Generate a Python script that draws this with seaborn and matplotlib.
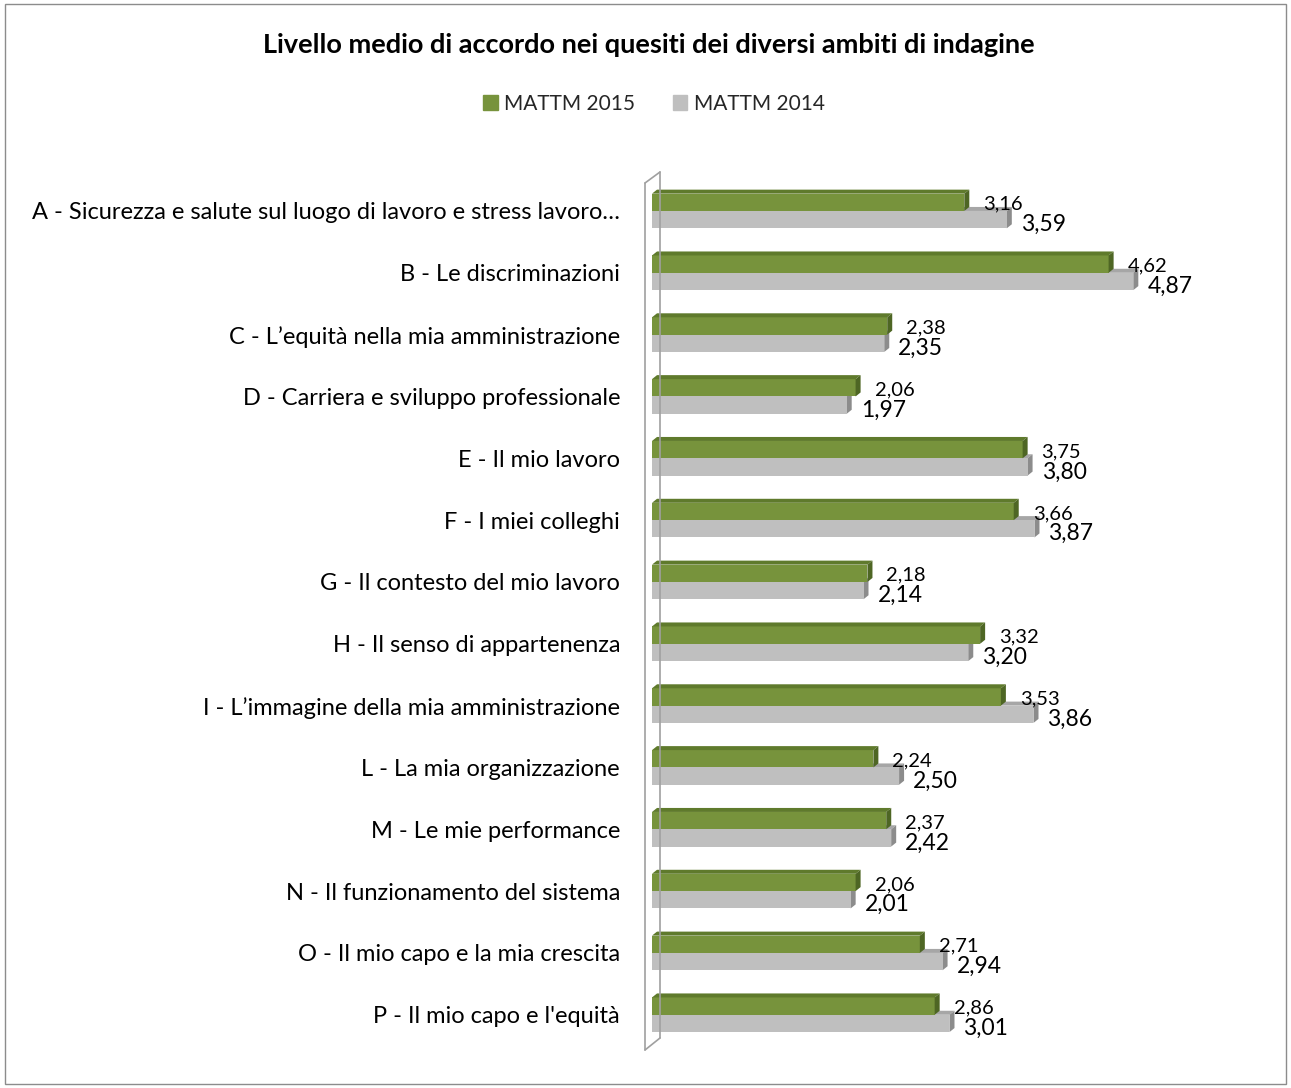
import pandas as pd
import matplotlib.pyplot as plt
import seaborn as sns
from matplotlib.patches import Polygon, Rectangle
from matplotlib.lines import Line2D

# Data
categories = [
    "A - Sicurezza e salute sul luogo di lavoro e stress lavoro…",
    "B - Le discriminazioni",
    "C - L’equità nella mia amministrazione",
    "D - Carriera e sviluppo professionale",
    "E - Il mio lavoro",
    "F - I miei colleghi",
    "G - Il contesto del mio lavoro",
    "H - Il senso di appartenenza",
    "I - L’immagine della mia amministrazione",
    "L - La mia organizzazione",
    "M - Le mie performance",
    "N - Il funzionamento del sistema",
    "O - Il mio capo e la mia crescita",
    "P - Il mio capo e l'equità",
]
mattm_2015 = [3.16, 4.62, 2.38, 2.06, 3.75, 3.66, 2.18, 3.32, 3.53, 2.24, 2.37, 2.06, 2.71, 2.86]
mattm_2014 = [3.59, 4.87, 2.35, 1.97, 3.80, 3.87, 2.14, 3.20, 3.86, 2.50, 2.42, 2.01, 2.94, 3.01]
series = ["MATTM 2015", "MATTM 2014"]

colors = {"MATTM 2015": "#77933C", "MATTM 2014": "#BFBFBF"}
top_col = {"MATTM 2015": "#5F7A2C", "MATTM 2014": "#A6A6A6"}
side_col = {"MATTM 2015": "#4E6624", "MATTM 2014": "#8C8C8C"}

df = pd.DataFrame({
    "categoria": categories * 2,
    "valore": mattm_2015 + mattm_2014,
    "serie": [series[0]] * len(categories) + [series[1]] * len(categories),
})

W, H = 1291, 1088
sns.set_theme(style="white")
plt.rcParams["font.family"] = ["Lato", "DejaVu Sans"]

fig = plt.figure(figsize=(W / 100, H / 100), dpi=100)
ax = fig.add_axes([652 / W, 1 - 1050 / H, 593 / W, 878 / H])

sns.barplot(data=df, x="valore", y="categoria", hue="serie", palette=colors,
            orient="h", width=0.56, gap=0, saturation=1, ax=ax, legend=False,
            edgecolor="none", zorder=3)

ax.set_xlim(0, 6)
ax.set_ylim(13.57, -0.63)
ax.set_xlabel("")
ax.set_ylabel("")
ax.set_xticks([])
ax.tick_params(axis="y", length=0, pad=23, labelsize=17, labelcolor="black")
for s in ax.spines.values():
    s.set_visible(False)

# 3D-ish faces and value labels
px_x = 6 / 593
px_y = 1 / 61.8
dx, dy = 5 * px_x, 4 * px_y
for container, name, vals in zip(ax.containers, series, [mattm_2015, mattm_2014]):
    for bar, v in zip(container, vals):
        x0 = bar.get_x()
        x1 = x0 + bar.get_width()
        ytop = bar.get_y()
        ybot = ytop + bar.get_height()
        z = 2.5 if name == "MATTM 2014" else 3.5
        ax.add_patch(Polygon([(x0, ytop), (x1, ytop), (x1 + dx, ytop - dy), (x0 + dx, ytop - dy)],
                             closed=True, facecolor=top_col[name], edgecolor="none", zorder=z))
        ax.add_patch(Polygon([(x1, ytop), (x1 + dx, ytop - dy), (x1 + dx, ybot - dy), (x1, ybot)],
                             closed=True, facecolor=side_col[name], edgecolor="none", zorder=z))
        lbl = f"{v:.2f}".replace(".", ",")
        if name == "MATTM 2015":
            ax.text(x1 + 19 * px_x, (ytop + ybot) / 2 + 2 * px_y, lbl, fontsize=14.5,
                    va="center", ha="left", color="black", zorder=5)
        else:
            ax.text(x1 + 14 * px_x, (ytop + ybot) / 2 + 5 * px_y, lbl, fontsize=16.5,
                    va="center", ha="left", color="black", zorder=5)

# wall of the 3D axis
wall = "#A0A0A0"
def fp(x, y):
    return (x / W, 1 - y / H)
for (xa, ya), (xb, yb) in [((645, 183), (645, 1050)), ((645, 183), (660, 172)),
                           ((660, 172), (660, 1038)), ((645, 1050), (660, 1038))]:
    fig.add_artist(Line2D([fp(xa, ya)[0], fp(xb, yb)[0]], [fp(xa, ya)[1], fp(xb, yb)[1]],
                          transform=fig.transFigure, color=wall, lw=1.2, zorder=1))

# outer border
fig.add_artist(Rectangle((5 / W, 4 / H), 1 - 10 / W, 1 - 8 / H, transform=fig.transFigure,
                         fill=False, edgecolor="#8C8C8C", lw=1))

fig.text(649 / W, 1 - 45 / H, "Livello medio di accordo nei quesiti dei diversi ambiti di indagine",
         ha="center", va="center", fontsize=19.5, fontweight="bold", color="black")

handles = [Rectangle((0, 0), 1, 1, color=colors[s]) for s in series]
fig.legend(handles, series, loc="center", bbox_to_anchor=(654 / W, 1 - 104 / H), ncol=2,
           frameon=False, fontsize=15, handlelength=0.7, handleheight=0.7,
           handletextpad=0.3, columnspacing=1.8)

fig.savefig("out.png", dpi=100)
